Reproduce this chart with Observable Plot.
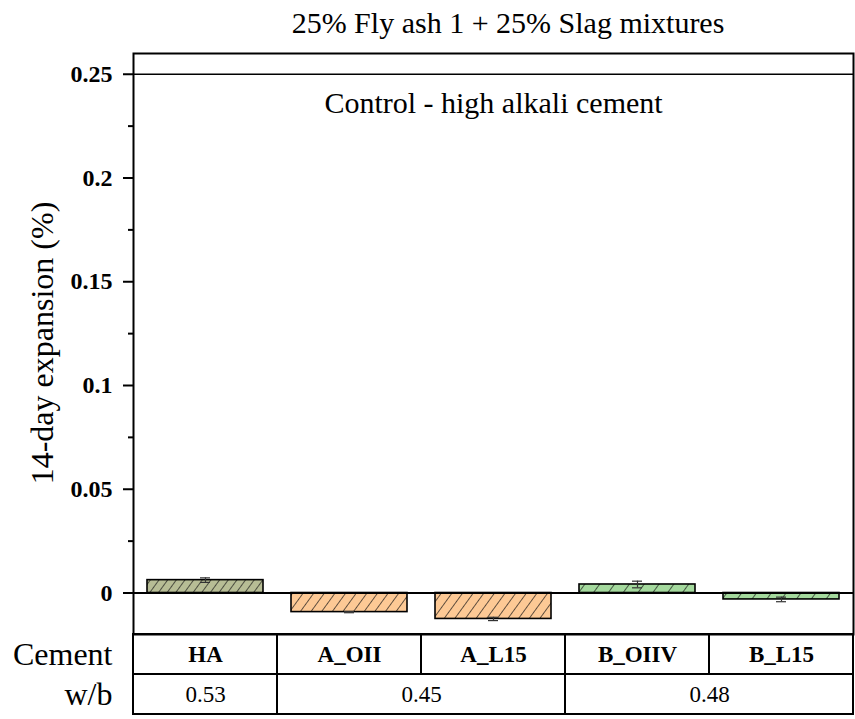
<!DOCTYPE html>
<html><head><meta charset="utf-8">
<script src="https://cdn.jsdelivr.net/npm/d3@7"></script>
<script src="https://cdn.jsdelivr.net/npm/@observablehq/plot@0.6"></script>
<style>
body{margin:0;background:#fff;}
#wrap{position:relative;width:855px;height:719px;font-family:"Liberation Serif";color:#000;overflow:hidden;}
#wrap svg{position:absolute;left:0;overflow:visible;}
#title{position:absolute;top:5px;left:508px;transform:translateX(-50%);font-size:30px;line-height:36px;white-space:nowrap;}
#ylabel{position:absolute;left:42px;top:343px;transform:translate(-50%,-50%) rotate(-90deg);font-size:32px;line-height:36px;white-space:nowrap;}
svg g[aria-label="y-axis tick label"]{font-weight:bold;font-size:24px;}
</style>
</head><body>
<div id="wrap">
  <div id="title"></div>
  <div id="ylabel"></div>
</div>
<script>
// ---- data ----
const titleText = "25% Fly ash 1 + 25% Slag mixtures";
const yLabel = "14-day expansion (%)";
const cements = ["HA", "A_OII", "A_L15", "B_OIIV", "B_L15"];
const expansion = [0.0062, -0.0092, -0.0125, 0.0041, -0.0031];
const errors = [0.0011, 0.0003, 0.0008, 0.0016, 0.0011];
const wb = ["0.53", "0.45", "0.45", "0.48", "0.48"];
const rowLabels = ["Cement", "w/b"];
const controlLabel = "Control - high alkali cement";
const controlValue = 0.25;
const yTicks = [0, 0.05, 0.1, 0.15, 0.2, 0.25];
const yMinorTicks = [0.025, 0.075, 0.125, 0.175, 0.225];

// ---- styles ----
const serif = "Liberation Serif";
const barColors = ["#b7bd95", "#fdc995", "#a4d99d"];
const hatchSpacing = [7, 8.6, 12];
const barStyle = [0, 1, 1, 2, 2];

document.getElementById("title").textContent = titleText;
document.getElementById("ylabel").textContent = yLabel;

const rows = cements.map((c, i) => ({cement: c, value: expansion[i], err: errors[i], pat: `url(#hatch${barStyle[i]})`}));

const chart = Plot.plot({
  width: 855, height: 640,
  marginLeft: 133, marginRight: 2, marginTop: 53, marginBottom: 6,
  x: {domain: cements, paddingInner: 0.194, paddingOuter: 0.097, axis: null},
  y: {domain: [-0.02, 0.26]},
  color: {type: "identity"},
  style: {fontFamily: serif, background: "transparent", overflow: "visible"},
  marks: [
    Plot.ruleY([controlValue], {strokeWidth: 1.3}),
    Plot.text([{label: controlLabel, value: controlValue}], {y: "value", text: "label", frameAnchor: "middle", dy: 29, fontSize: 30}),
    Plot.barY(rows, {x: "cement", y: "value", fill: "pat", stroke: "black", strokeWidth: 1.6}),
    Plot.ruleY([0], {strokeWidth: 2}),
    Plot.ruleX(rows, {x: "cement", y1: d => d.value - d.err, y2: d => d.value + d.err, stroke: "#333", strokeWidth: 1.2}),
    Plot.tickY(rows, {x: "cement", y: d => d.value + d.err, insetLeft: 53, insetRight: 53, stroke: "#333", strokeWidth: 1.2}),
    Plot.tickY(rows, {x: "cement", y: d => d.value - d.err, insetLeft: 53, insetRight: 53, stroke: "#333", strokeWidth: 1.2}),
    Plot.axisY({ticks: yTicks, tickSize: 10, tickPadding: 11, tickFormat: d => `${d}`, fontSize: 24, fontWeight: "bold", strokeWidth: 2, label: null}),
    Plot.axisY({ticks: yMinorTicks, tickSize: 5, tickFormat: () => "", strokeWidth: 2, label: null}),
    Plot.frame({strokeWidth: 2})
  ]
});
chart.style.top = "0px";
const defs = d3.select(chart).insert("defs", ":first-child");
barColors.forEach((col, k) => {
  const s = hatchSpacing[k];
  const p = defs.append("pattern").attr("id", `hatch${k}`).attr("patternUnits", "userSpaceOnUse")
    .attr("width", s).attr("height", s).attr("patternTransform", "rotate(36)");
  p.append("rect").attr("width", s).attr("height", s).attr("fill", col);
  p.append("line").attr("x1", 0).attr("y1", 0).attr("x2", 0).attr("y2", s).attr("stroke", "#111").attr("stroke-width", 1.3);
});
document.getElementById("wrap").appendChild(chart);

// ---- table ----
const cementCells = cements.map((c, i) => ({x1: i, x2: i + 1, y1: 0, y2: 1, text: c, bold: true}));
const wbCells = [];
wb.forEach((v, i) => {
  const last = wbCells[wbCells.length - 1];
  if (last && last.text === v) last.x2 = i + 1;
  else wbCells.push({x1: i, x2: i + 1, y1: 1, y2: 2, text: v, bold: false});
});
const cells = cementCells.concat(wbCells);
const table = Plot.plot({
  width: 855, height: 90,
  marginLeft: 133, marginRight: 2, marginTop: 5, marginBottom: 5,
  x: {type: "linear", domain: [0, cements.length], axis: null},
  y: {type: "linear", domain: [0, rowLabels.length], reverse: true, axis: null},
  style: {fontFamily: serif, background: "transparent", overflow: "visible"},
  marks: [
    Plot.rect(cells, {x1: "x1", x2: "x2", y1: "y1", y2: "y2", stroke: "black", strokeWidth: 2, fill: "none"}),
    Plot.text(cells.filter(d => d.bold), {x: d => (d.x1 + d.x2) / 2, y: d => (d.y1 + d.y2) / 2, text: "text", fontSize: 23, fontWeight: "bold"}),
    Plot.text(cells.filter(d => !d.bold), {x: d => (d.x1 + d.x2) / 2, y: d => (d.y1 + d.y2) / 2, text: "text", fontSize: 23}),
    Plot.text(rowLabels, {x: 0, y: (d, i) => i + 0.5, text: d => d, dx: -21, textAnchor: "end", fontSize: 32})
  ]
});
table.style.top = "629px";
document.getElementById("wrap").appendChild(table);
</script>
</body></html>
